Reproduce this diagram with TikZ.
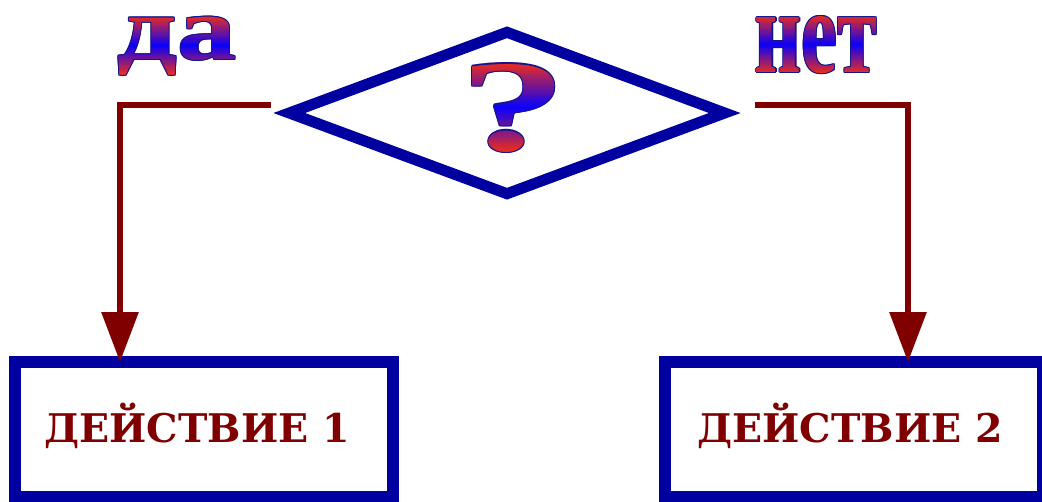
\documentclass[tikz,border=0pt]{standalone}
\usepackage{fontspec}
\usepackage{graphicx}
\setmainfont{DejaVu Serif}
\newfontfamily\artfont{Liberation Serif}
\usetikzlibrary{shapes.geometric,arrows.meta,calc}
\definecolor{dblue}{RGB}{0,0,160}
\definecolor{dred}{RGB}{128,0,0}
\definecolor{gred}{RGB}{235,45,30}
\definecolor{gblue}{RGB}{10,0,250}
\definecolor{oblue}{RGB}{20,20,140}

\newcommand{\daword}{\resizebox*{119pt}{58pt}{\artfont\bfseries да}}
\newcommand{\netword}{\resizebox{122pt}{56pt}{\artfont\bfseries нет}}
\newcommand{\qword}{\resizebox{108pt}{86pt}{\artfont\bfseries ?}}
\newcommand{\gradword}[2]{% #1 node name, #2 content
  \foreach \k in {0,...,47}{
    \pgfmathsetmacro\p{abs(2*(\k+0.5)/48-1)*100}
    \pgfmathsetmacro\fa{\k/48}
    \pgfmathsetmacro\fb{min(1,(\k+1.6)/48)}
    \begin{scope}
      \clip ($(#1.north west)!\fa!(#1.south west)+(-3,0)$) rectangle ($(#1.north east)!\fb!(#1.south east)+(3,0)$);
      \node[inner sep=0pt, text=gred!\p!gblue] (#1g\k) at (#1.center) {#2};
    \end{scope}
  }
}

\begin{document}
\begin{tikzpicture}[x=1pt,y=-1pt,
  boxst/.style={draw=dblue, line width=12pt, minimum width=378pt, minimum height=135pt,
    inner sep=0pt, outer sep=0pt, text=dred, text height=25pt, text depth=0pt,
    font=\fontsize{39.5}{40}\selectfont\bfseries},
  conn/.style={draw=dred, line width=6pt, -{Triangle[length=50pt,width=36pt]}},
  outl/.style={inner sep=0pt, text=oblue}]
\useasboundingbox (0,0) rectangle (1042,501);
\fill[white] (0,0) rectangle (1042,501);

\node[diamond, draw=dblue, line width=11pt, minimum width=440pt, minimum height=166pt,
  inner sep=0pt, aspect=2.65] (dia) at (507,113) {};

\node[boxst] (act1) at (204,429.5) {ДЕЙСТВИЕ 1\hspace*{14pt}};
\node[boxst] (act2) at (854,429.5) {ДЕЙСТВИЕ 2\hspace*{8pt}};

\coordinate (yes) at (271,105);
\coordinate (yesk) at (120,105);
\draw[conn] (yes) -- (yesk) -- (yesk |- act1.north);
\coordinate (no) at (755,105);
\coordinate (nok) at (908,105);
\draw[conn] (no) -- (nok) -- (nok |- act2.north);

\foreach \dx/\dy [count=\i] in {1.3/0,-1.3/0,0/1.3,0/-1.3,0.9/0.9,-0.9/0.9,0.9/-0.9,-0.9/-0.9}{
  \node[outl] (dao\i) at ([shift={(\dx,\dy)}]177,46) {\daword};
  \node[outl] (neto\i) at ([shift={(\dx,\dy)}]816,45) {\netword};
  \node[outl] (qo\i) at ([shift={(\dx,\dy)}]513.5,108) {\qword};
}
\node[outl] (da) at (177,46) {\daword};
\node[outl] (net) at (816,45) {\netword};
\node[outl] (q) at (513.5,108) {\qword};
\gradword{da}{\daword}
\gradword{net}{\netword}
\gradword{q}{\qword}
\end{tikzpicture}
\end{document}
